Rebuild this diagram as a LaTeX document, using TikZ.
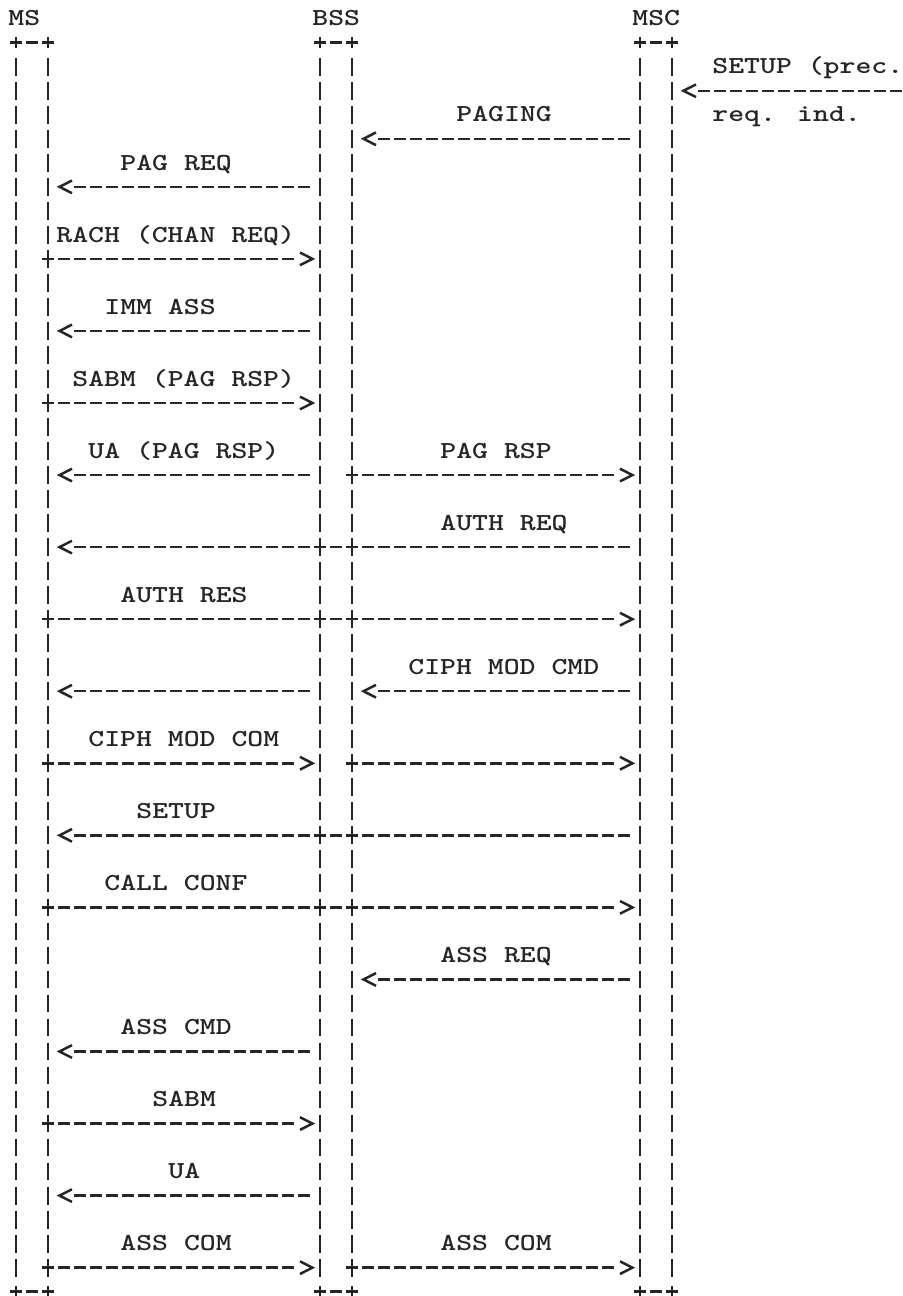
\documentclass[tikz,border=0pt]{standalone}
\tikzset{
  glyph/.style={line width=0.05cm, draw=black!85},
  rail/.style={glyph, dash pattern=on 0.3555cm off 0.1249cm},
  dashline/.style={glyph, dash pattern=on 0.2336cm off 0.0864cm},
  tipl/.pic={\draw[glyph, solid] (-0.12,-0.264) -- (-0.9,0) -- (-0.12,0.264);},
  tipr/.pic={\draw[glyph, solid] (0.12,-0.264) -- (0.9,0) -- (0.12,0.264);},
  lbl/.style={font=\ttfamily\bfseries\fontsize{13.9pt}{16pt}\selectfont,
    text=black!85, inner sep=0pt, anchor=base west, xscale=1.24}
}
\begin{document}
\begin{tikzpicture}[x=0.32cm, y=-0.4804cm]
    \useasboundingbox (-1,-0.7785) rectangle (55.4375,53.18);
    % rows of the messages
    \foreach \r in {3,5,7,10,13,...,52} \coordinate (r\r) at (0,\r);
    % where the messages leave and reach the lifelines
    \coordinate (msOut) at (1.635,0);
    \coordinate (msIn) at (3.62,0);
    \coordinate (bssOut) at (18.365,0);
    \coordinate (bssIn) at (17.63,0);
    \coordinate (bssOutR) at (20.635,0);
    \coordinate (bssInR) at (22.62,0);
    \coordinate (mscOut) at (38.365,0);
    \coordinate (mscIn) at (37.63,0);
    \coordinate (mscInR) at (42.62,0);
    \coordinate (far) at (56.365,0);
    % lifelines
    \foreach \c in {0,19,39} {
      \draw[dashline] (\c-0.365,1) -- (\c+2.365,1);% top
      \draw[dashline] (\c-0.365,53) -- (\c+2.365,53);% bottom
      \draw[glyph] (\c,0.78) -- (\c,1.22) (\c+2,0.78) -- (\c+2,1.22);
      \draw[glyph] (\c,52.78) -- (\c,53.22) (\c+2,52.78) -- (\c+2,53.22);
      \draw[rail] (\c,1.63) -- (\c,52.37);
      \draw[rail] (\c+2,1.63) -- (\c+2,52.37);
    }
    \node[lbl] (ms) at (-0.5,0.3) {MS};
    \node[lbl] (bss) at (18.5,0.3) {BSS};
    \node[lbl] (msc) at (38.5,0.3) {MSC};
    % labels
    \node[lbl] (setupprec) at (43.5,2.3) {SETUP (prec.};
    \node[lbl] (paging) at (27.5,4.3) {PAGING};
    \node[lbl] (reqind) at (43.5,4.3) {req. ind.};
    \node[lbl] (pagreq) at (6.5,6.3) {PAG REQ};
    \node[lbl] (rach) at (2.5,9.3) {RACH (CHAN REQ)};
    \node[lbl] (immass) at (5.5,12.3) {IMM ASS};
    \node[lbl] (sabmpag) at (3.5,15.3) {SABM (PAG RSP)};
    \node[lbl] (uapag) at (4.5,18.3) {UA (PAG RSP)};
    \node[lbl] (pagrsp) at (26.5,18.3) {PAG RSP};
    \node[lbl] (authreq) at (26.5,21.3) {AUTH REQ};
    \node[lbl] (authres) at (6.5,24.3) {AUTH RES};
    \node[lbl] (ciphcmd) at (24.5,27.3) {CIPH MOD CMD};
    \node[lbl] (ciphcom) at (4.5,30.3) {CIPH MOD COM};
    \node[lbl] (setup) at (7.5,33.3) {SETUP};
    \node[lbl] (callconf) at (5.5,36.3) {CALL CONF};
    \node[lbl] (assreq) at (26.5,39.3) {ASS REQ};
    \node[lbl] (asscmd) at (6.5,42.3) {ASS CMD};
    \node[lbl] (sabm) at (8.5,45.3) {SABM};
    \node[lbl] (ua) at (9.5,48.3) {UA};
    \node[lbl] (asscomms) at (6.5,51.3) {ASS COM};
    \node[lbl] (asscommsc) at (26.5,51.3) {ASS COM};
    % messages
    \draw[dashline] (far |- r3) -- (mscInR |- r3) pic {tipl};
    \draw[dashline] (mscOut |- r5) -- (bssInR |- r5) pic {tipl};
    \draw[dashline] (bssOut |- r7) -- (msIn |- r7) pic {tipl};
    \draw[dashline] (msOut |- r10) -- (bssIn |- r10) pic {tipr};
    \draw[dashline] (bssOut |- r13) -- (msIn |- r13) pic {tipl};
    \draw[dashline] (msOut |- r16) -- (bssIn |- r16) pic {tipr};
    \draw[dashline] (bssOut |- r19) -- (msIn |- r19) pic {tipl};
    \draw[dashline] (bssOutR |- r19) -- (mscIn |- r19) pic {tipr};
    \draw[dashline] (mscOut |- r22) -- (msIn |- r22) pic {tipl};
    \draw[dashline] (msOut |- r25) -- (mscIn |- r25) pic {tipr};
    \draw[dashline] (mscOut |- r28) -- (bssInR |- r28) pic {tipl};
    \draw[dashline] (bssOut |- r28) -- (msIn |- r28) pic {tipl};
    \draw[dashline] (msOut |- r31) -- (bssIn |- r31) pic {tipr};
    \draw[dashline] (bssOutR |- r31) -- (mscIn |- r31) pic {tipr};
    \draw[dashline] (mscOut |- r34) -- (msIn |- r34) pic {tipl};
    \draw[dashline] (msOut |- r37) -- (mscIn |- r37) pic {tipr};
    \draw[dashline] (mscOut |- r40) -- (bssInR |- r40) pic {tipl};
    \draw[dashline] (bssOut |- r43) -- (msIn |- r43) pic {tipl};
    \draw[dashline] (msOut |- r46) -- (bssIn |- r46) pic {tipr};
    \draw[dashline] (bssOut |- r49) -- (msIn |- r49) pic {tipl};
    \draw[dashline] (msOut |- r52) -- (bssIn |- r52) pic {tipr};
    \draw[dashline] (bssOutR |- r52) -- (mscIn |- r52) pic {tipr};
\end{tikzpicture}
\end{document}
